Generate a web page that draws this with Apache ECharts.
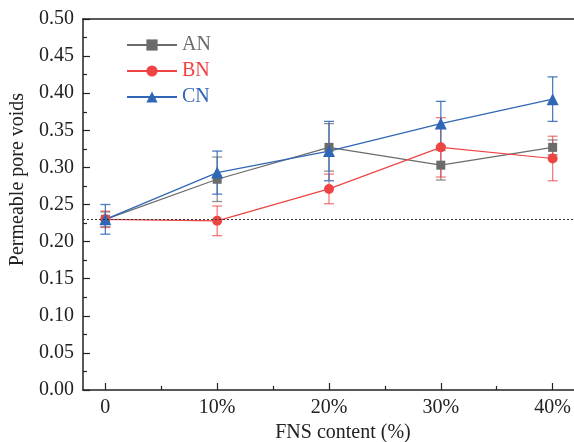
<!DOCTYPE html>
<html>
<head>
<meta charset="utf-8">
<script src="https://cdn.jsdelivr.net/npm/echarts@6/dist/echarts.min.js"></script>
<style>
  html, body { margin: 0; padding: 0; background: #fff; }
  #chart { width: 574px; height: 442px; }
</style>
</head>
<body>
<div id="chart"></div>
<script>
// FNS content levels (%) and their tick labels
const fnsContent = [0, 10, 20, 30, 40];
const xTickLabels = ['0', '10%', '20%', '30%', '40%'];
const xMinorTicks = [5, 15, 25, 35];

// Permeable pore voids, mean values
const seriesNames = ['AN', 'BN', 'CN'];
const anValues = [0.230, 0.284, 0.327, 0.303, 0.327];
const bnValues = [0.230, 0.228, 0.271, 0.327, 0.312];
const cnValues = [0.230, 0.293, 0.322, 0.359, 0.392];

// Standard deviations (error bar half-widths)
const anErrors = [0.010, 0.030, 0.032, 0.020, 0.010];
const bnErrors = [0.011, 0.020, 0.020, 0.040, 0.030];
const cnErrors = [0.020, 0.029, 0.040, 0.030, 0.030];

// Reference level of the plain mix
const referenceLevel = 0.228;

const colors = { AN: '#6b6b6b', BN: '#ef4444', CN: '#2f66b5' };
const barColors = { AN: 'rgba(107,107,107,0.75)', BN: 'rgba(239,68,68,0.7)', CN: 'rgba(47,102,181,0.85)' };
const serif = '"Liberation Serif", "Times New Roman", serif';
const ink = '#222';

function pairs(values) {
  return fnsContent.map((x, i) => [x, values[i]]);
}
function errorData(values, errors) {
  return fnsContent.map((x, i) => [x, values[i] - errors[i], values[i] + errors[i]]);
}

function errorBarSeries(name, values, errors) {
  return {
    type: 'custom',
    name: name + ' error',
    xAxisIndex: 0,
    yAxisIndex: 0,
    silent: true,
    z: 2,
    data: errorData(values, errors),
    renderItem: function (params, api) {
      const x = api.value(0);
      const lo = api.coord([x, api.value(1)]);
      const hi = api.coord([x, api.value(2)]);
      const half = 5;
      const style = { stroke: barColors[name], lineWidth: 1.3, fill: null };
      return {
        type: 'group',
        children: [
          { type: 'line', shape: { x1: lo[0], y1: lo[1], x2: hi[0], y2: hi[1] }, style: style },
          { type: 'line', shape: { x1: hi[0] - half, y1: hi[1], x2: hi[0] + half, y2: hi[1] }, style: style },
          { type: 'line', shape: { x1: lo[0] - half, y1: lo[1], x2: lo[0] + half, y2: lo[1] }, style: style }
        ]
      };
    }
  };
}

function lineSeries(name, values, symbol, size, extra) {
  return Object.assign({
    type: 'line',
    name: name,
    data: pairs(values),
    symbol: symbol,
    symbolSize: size,
    showAllSymbol: true,
    z: 3,
    itemStyle: { color: colors[name], opacity: 1 },
    lineStyle: { color: colors[name], width: 1.2 },
    emphasis: { disabled: true },
    animation: false
  }, extra || {});
}

const chart = echarts.init(document.getElementById('chart'), null, { renderer: 'canvas' });

chart.setOption({
  animation: false,
  backgroundColor: '#fff',
  grid: { left: 83, top: 19, width: 492, height: 371, outerBoundsMode: 'none', containLabel: false },
  legend: {
    orient: 'vertical',
    left: 121,
    top: 30,
    itemWidth: 50,
    itemHeight: 14,
    itemGap: 6,
    textStyle: { fontFamily: serif, fontSize: 20, lineHeight: 20 },
    data: seriesNames.map(n => ({ name: n, textStyle: { color: colors[n] } }))
  },
  xAxis: [
    {
      type: 'value',
      min: -2,
      max: 42,
      position: 'bottom',
      name: 'FNS content (%)',
      nameLocation: 'middle',
      nameGap: 33,
      nameTextStyle: { fontFamily: serif, fontSize: 20, color: ink, padding: [0, 0, 0, 28] },
      axisLine: { show: true, onZero: false, lineStyle: { color: ink, width: 1.5 } },
      axisTick: { show: true, inside: true, length: 7, customValues: fnsContent, lineStyle: { color: ink, width: 1.2 } },
      axisLabel: {
        show: true,
        margin: 8,
        customValues: fnsContent,
        fontFamily: serif,
        fontSize: 20,
        color: ink,
        formatter: v => xTickLabels[fnsContent.indexOf(v)]
      },
      splitLine: { show: false }
    },
    {
      // minor ticks between the FNS levels
      type: 'value',
      min: -2,
      max: 42,
      position: 'bottom',
      offset: 0,
      axisLine: { show: false, onZero: false },
      axisTick: { show: true, inside: true, length: 4, customValues: xMinorTicks, lineStyle: { color: ink, width: 1.2 } },
      axisLabel: { show: false },
      splitLine: { show: false }
    },
    {
      // upper frame line
      type: 'value',
      min: -2,
      max: 42,
      position: 'top',
      axisLine: { show: true, onZero: false, lineStyle: { color: ink, width: 1.5 } },
      axisTick: { show: false },
      axisLabel: { show: false },
      splitLine: { show: false }
    }
  ],
  yAxis: {
    type: 'value',
    min: 0,
    max: 0.5,
    interval: 0.05,
    name: 'Permeable pore voids',
    nameLocation: 'middle',
    nameGap: 54,
    nameTextStyle: { fontFamily: serif, fontSize: 20, color: ink, padding: [0, 0, 0, 50] },
    axisLine: { show: true, onZero: false, lineStyle: { color: ink, width: 1.5 } },
    axisTick: { show: true, inside: true, length: 7, lineStyle: { color: ink, width: 1.2 } },
    minorTick: { show: true, splitNumber: 2, length: 4, lineStyle: { color: ink, width: 1.2 } },
    axisLabel: {
      margin: 9,
      fontFamily: serif,
      fontSize: 20,
      color: ink,
      formatter: v => v.toFixed(2)
    },
    splitLine: { show: false },
    minorSplitLine: { show: false }
  },
  series: [
    errorBarSeries('AN', anValues, anErrors),
    errorBarSeries('BN', bnValues, bnErrors),
    errorBarSeries('CN', cnValues, cnErrors),
    lineSeries('AN', anValues, 'rect', 9, {
      markLine: {
        silent: true,
        symbol: 'none',
        label: { show: false },
        lineStyle: { color: '#333', width: 1, type: [2, 2] },
        data: [{ yAxis: referenceLevel }]
      }
    }),
    lineSeries('BN', bnValues, 'circle', 10),
    lineSeries('CN', cnValues, 'triangle', 12)
  ]
});
</script>
</body>
</html>
